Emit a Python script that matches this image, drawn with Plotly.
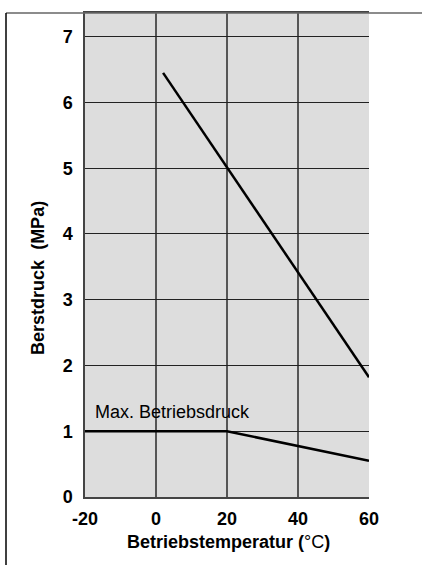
import plotly.graph_objects as go

# Data
burst_temp = [2, 60]
burst_pressure = [6.45, 1.82]
maxop_temp = [-20, 20, 60]
maxop_pressure = [1.0, 1.0, 0.55]
x_ticks = [-20, 0, 20, 40, 60]
y_ticks = [0, 1, 2, 3, 4, 5, 6, 7]

W, H = 423, 565
L, R, T, B = 85, 369, 11, 497

def px(x):
    return (x - L) / (R - L)

def py(y):
    return (B - y) / (B - T)

fig = go.Figure()
fig.add_trace(go.Scatter(x=burst_temp, y=burst_pressure, mode="lines",
                         line=dict(color="black", width=2.5), showlegend=False,
                         hoverinfo="skip"))
fig.add_trace(go.Scatter(x=maxop_temp, y=maxop_pressure, mode="lines",
                         line=dict(color="black", width=2.5), showlegend=False,
                         hoverinfo="skip"))

font = "Liberation Sans, Arial, Helvetica, sans-serif"

fig.update_layout(
    width=W, height=H,
    margin=dict(l=L, r=W - R, t=T, b=H - B, pad=0),
    paper_bgcolor="white",
    plot_bgcolor="#dddddd",
    font=dict(family=font, color="black", size=18),
    xaxis=dict(range=[-20, 60], tickvals=x_ticks,
               ticktext=[f"<b>{v}</b>" for v in x_ticks],
               showgrid=True, gridcolor="#555555", gridwidth=1.5,
               zeroline=False, showline=True, linecolor="#444444", linewidth=1.5,
               mirror=True, ticks="", ticklabelstandoff=5,
               tickfont=dict(size=18)),
    yaxis=dict(range=[0, 7.36], tickvals=y_ticks,
               ticktext=[f"<b>{v}</b>" for v in y_ticks],
               showgrid=True, gridcolor="#222222", gridwidth=1,
               zeroline=False, showline=True, linecolor="#444444", linewidth=1.5,
               ticks="", ticklabelstandoff=7,
               tickfont=dict(size=18)),
    annotations=[
        dict(x=-17.2, y=1.29, xref="x", yref="y", text="Max. Betriebsdruck",
             showarrow=False, xanchor="left", yanchor="middle", xshift=-2,
             font=dict(size=18, family=font)),
        dict(x=(228 - L) / (R - L), y=py(542), xref="paper", yref="paper",
             text="<b>Betriebstemperatur (</b>°C<b>)</b>", showarrow=False,
             xanchor="center", yanchor="middle", font=dict(size=18, family=font)),
        dict(x=px(38), y=py(277), xref="paper", yref="paper",
             text="<b>Berstdruck\u00a0\u00a0(MPa)</b>", showarrow=False, textangle=-90,
             xanchor="center", yanchor="middle", font=dict(size=18, family=font)),
    ],
    shapes=[
        dict(type="line", xref="paper", yref="paper", x0=px(6), x1=px(422),
             y0=py(11), y1=py(11), line=dict(color="#666666", width=1.5)),
        dict(type="line", xref="paper", yref="paper", x0=px(6), x1=px(6),
             y0=py(11), y1=py(566), line=dict(color="black", width=1.5)),
    ],
)

fig.write_html("out.html", config={"displayModeBar": False},
               post_script="document.body.style.margin='0';document.body.style.overflow='hidden';")
